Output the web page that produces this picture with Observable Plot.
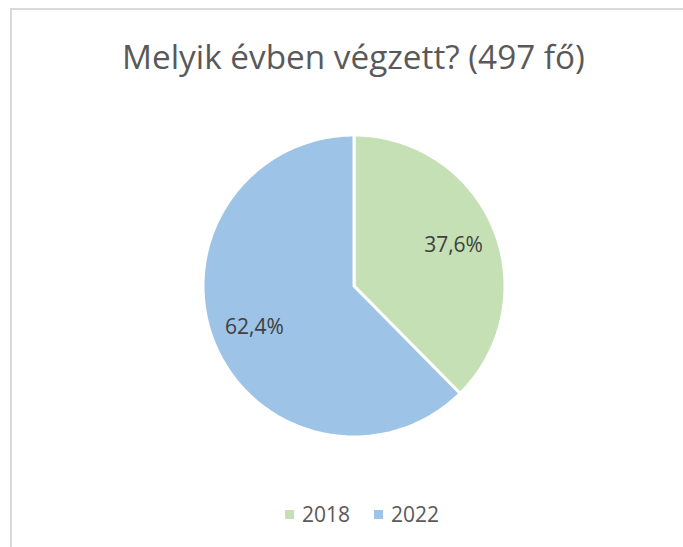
<!DOCTYPE html>
<html>
<head>
<meta charset="utf-8">
<script src="https://cdn.jsdelivr.net/npm/d3@7"></script>
<script src="https://cdn.jsdelivr.net/npm/@observablehq/plot@0.6"></script>
<style>
  html, body { margin: 0; padding: 0; background: #fff; overflow: hidden; }
  #wrap { position: relative; width: 683px; height: 547px; overflow: hidden; font-family: "Open Sans", Lato, sans-serif; }
  #frame { position: absolute; left: 10px; top: 8px; width: 760px; height: 600px; border: 2px solid #d9d9d9; box-sizing: border-box; }
  #title { position: absolute; left: 0; width: 707px; top: 35px; text-align: center; font-size: 33.3px; line-height: 42px; color: #595959; white-space: nowrap; }
  #chart { position: absolute; left: 0; top: 0; }
  #legend { position: absolute; left: 285px; top: 500px; display: flex; align-items: center; font-size: 21px; line-height: 28px; color: #595959; }
  .item { display: flex; align-items: center; margin-right: 24px; }
  .sw { width: 9px; height: 9px; margin-right: 8px; }
</style>
</head>
<body>
<div id="wrap">
  <div id="frame"></div>
  <div id="chart"></div>
  <div id="title"></div>
  <div id="legend"></div>
</div>
<script>
const years = ["2018", "2022"];
const shares = [37.6, 62.4];
const colors = ["#C5E0B4", "#9DC3E6"];
const chartTitle = "Melyik évben végzett? (497 fő)";

const rows = years.map((y, i) => ({year: y, share: shares[i]}));
const arcs = d3.pie().sort(null).value(d => d.share)(rows);

const R = 1.01;
const pts = [];
for (const s of arcs) {
  pts.push({year: s.data.year, x: 0, y: 0});
  const n = 180;
  for (let k = 0; k <= n; k++) {
    const a = s.startAngle + (s.endAngle - s.startAngle) * k / n;
    pts.push({year: s.data.year, x: R * Math.sin(a), y: R * Math.cos(a)});
  }
}
const labels = arcs.map(s => {
  const m = (s.startAngle + s.endAngle) / 2;
  return {x: 0.72 * Math.sin(m), y: 0.72 * Math.cos(m), text: s.data.share.toFixed(1).replace(".", ",") + "%"};
});

const plot = Plot.plot({
  width: 683,
  height: 547,
  margin: 0,
  x: {domain: [-2.3645, 2.204], axis: null},
  y: {domain: [-1.7492, 1.9097], axis: null},
  color: {domain: years, range: colors},
  style: {fontFamily: "'Open Sans', Lato, sans-serif", background: "transparent"},
  marks: [
    Plot.line(pts, {x: "x", y: "y", z: "year", fill: "year", stroke: "white", strokeWidth: 3, strokeLinejoin: "round", curve: "linear-closed"}),
    Plot.text(labels, {x: "x", y: "y", text: "text", fontSize: 21, fill: "#404040"})
  ]
});
document.getElementById("chart").appendChild(plot);
document.getElementById("title").textContent = chartTitle;

const legend = document.getElementById("legend");
years.forEach((y, i) => {
  const it = document.createElement("div");
  it.className = "item";
  const sw = document.createElement("div");
  sw.className = "sw";
  sw.style.background = colors[i];
  const t = document.createElement("span");
  t.textContent = y;
  it.appendChild(sw); it.appendChild(t);
  legend.appendChild(it);
});
</script>
</body>
</html>
